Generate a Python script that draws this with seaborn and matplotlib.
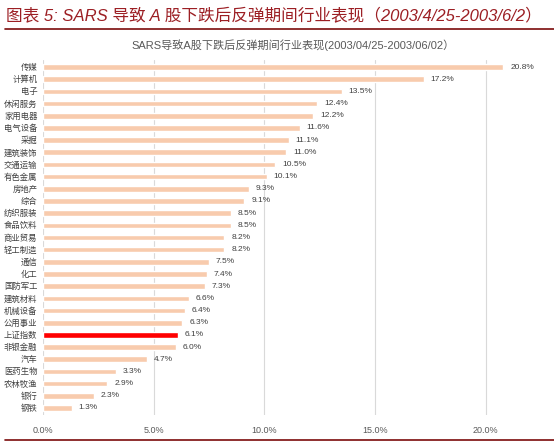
import matplotlib
matplotlib.use("Agg")
import matplotlib.pyplot as plt
from matplotlib.lines import Line2D
from matplotlib.ticker import PercentFormatter, FixedLocator
import seaborn as sns
import pandas as pd

categories = ["传媒", "计算机", "电子", "休闲服务", "家用电器", "电气设备", "采掘", "建筑装饰",
              "交通运输", "有色金属", "房地产", "综合", "纺织服装", "食品饮料", "商业贸易", "轻工制造",
              "通信", "化工", "国防军工", "建筑材料", "机械设备", "公用事业", "上证指数", "非银金融",
              "汽车", "医药生物", "农林牧渔", "银行", "钢铁"]
values = [0.208, 0.172, 0.135, 0.124, 0.122, 0.116, 0.111, 0.110,
          0.105, 0.101, 0.093, 0.091, 0.085, 0.085, 0.082, 0.082,
          0.075, 0.074, 0.073, 0.066, 0.064, 0.063, 0.061, 0.060,
          0.047, 0.033, 0.029, 0.023, 0.013]
highlight = "上证指数"
x_ticks = [0.0, 0.05, 0.10, 0.15, 0.20]

header = "图表 5: SARS 导致 A 股下跌后反弹期间行业表现（2003/4/25-2003/6/2）"
chart_title = "SARS导致A股下跌后反弹期间行业表现(2003/04/25-2003/06/02）"

sns.set_theme(style="white")
plt.rcParams["font.family"] = ["Liberation Sans", "Noto Sans CJK SC", "DejaVu Sans"]

df = pd.DataFrame({"industry": categories, "ret": values})
df["kind"] = ["hl" if c == highlight else "base" for c in categories]

fig = plt.figure(figsize=(5.54, 4.43), dpi=100)
ax = fig.add_axes([43 / 554, 1 - 415 / 443, 498 / 554, 355 / 443])

sns.barplot(data=df, x="ret", y="industry", hue="kind",
            palette={"base": "#F8CBAD", "hl": "#FF0000"},
            width=0.46, dodge=False, legend=False, ax=ax, orient="h",
            saturation=1)

for cont in ax.containers:
    ax.bar_label(cont, labels=[f"{v * 100:.1f}%" if v == v else "" for v in cont.datavalues],
                 padding=5, fontsize=6, color="#404040")

ax.set_xlim(0, 0.225)
ax.set_ylim(len(categories) - 0.425, -0.575)
ax.xaxis.set_major_locator(FixedLocator(x_ticks))
ax.xaxis.set_major_formatter(PercentFormatter(1.0, decimals=1))
ax.grid(axis="x", color="#D9D9D9", linewidth=0.8)
ax.grid(axis="y", visible=False)
ax.set_axisbelow(True)
for s in ax.spines.values():
    s.set_visible(False)
ax.tick_params(axis="x", labelsize=6.5, colors="#595959", length=0, pad=8)
ax.tick_params(axis="y", labelsize=6, colors="#404040", length=0, pad=4)
ax.set_xlabel("")
ax.set_ylabel("")

fig.text(293 / 554, 1 - 45 / 443, chart_title, ha="center", va="center",
         fontsize=8, color="#595959")
fig.text(6 / 554, 1 - 16 / 443, header, ha="left", va="center", fontsize=12,
         color="#9C1F24", fontstyle="italic", fontweight="normal")
fig.add_artist(Line2D([5 / 554, 1], [1 - 29 / 443] * 2, color="#7B0C0C", lw=1.2))
fig.add_artist(Line2D([5 / 554, 1], [1 - 440 / 443] * 2, color="#7B0C0C", lw=1.2))

fig.savefig("out.png", dpi=100, facecolor="white")
